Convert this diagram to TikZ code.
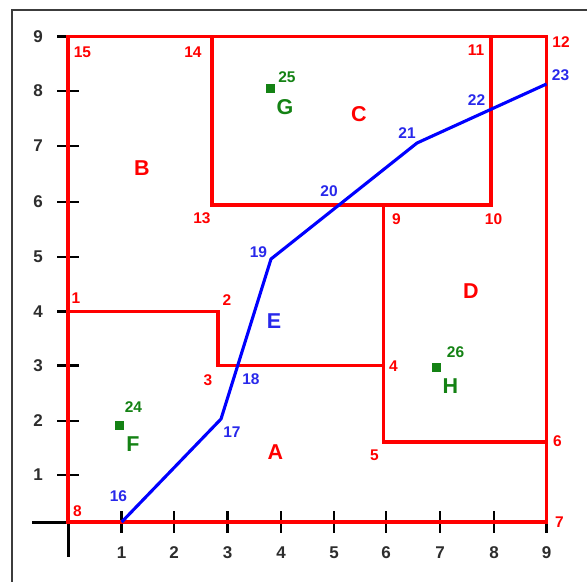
\documentclass[tikz,border=0pt]{standalone}
\usepackage{fontspec}
\setmainfont{Liberation Sans}
\definecolor{numblue}{RGB}{40,40,235}
\definecolor{numgreen}{RGB}{20,130,20}
\definecolor{tickgray}{RGB}{45,45,45}
\definecolor{framegray}{RGB}{60,60,60}
\begin{document}
\begin{tikzpicture}[x=1pt,y=-1pt,
 redl/.style={draw=red, line width=3.1pt, line join=miter},
 bluel/.style={draw=blue, line width=3.1pt, line join=round},
 num/.style={font=\fontsize{15.5}{15.5}\selectfont\bfseries, inner sep=0pt},
 rnum/.style={num, text=red},
 bnum/.style={num, text=numblue},
 gnum/.style={num, text=numgreen},
 big/.style={font=\fontsize{21.5}{21.5}\selectfont\bfseries, inner sep=0pt},
 axline/.style={draw=black, line width=3pt},
 axtick/.style={draw=black, line width=2.8pt},
 ticklab/.style={font=\fontsize{17}{17}\selectfont\bfseries, text=tickgray, inner sep=0pt},
 sq/.style={fill=numgreen, minimum size=9pt, inner sep=0pt, draw=none}
]
\useasboundingbox[fill=white] (0,0) rectangle (587,582);
% frame
\coordinate (fa) at (12,10); \coordinate (fb) at (587,10); \coordinate (fc) at (12,582);
\draw[framegray, line width=2.2pt] (fb) -- (fa) -- (fc);
% axes
\coordinate (ya) at (68,36.5); \coordinate (yb) at (68,557);
\coordinate (xa) at (32,522); \coordinate (xb) at (546,522);
\draw[axline] (ya) -- (yb);
\draw[axline] (xa) -- (xb);
\foreach \v/\py in {1/475,2/421,3/365.5,4/311.5,5/257,6/202,7/146,8/91,9/36.5}{
  \coordinate (yt\v a) at (57,\py); \coordinate (yt\v b) at (79,\py);
  \draw[axtick] (yt\v a) -- (yt\v b);
  \node[ticklab] (yl\v) at (38,\py) {\v};
}
\foreach \v/\px in {1/121.7,2/174,3/227.5,4/281,5/334,6/386,7/440,8/494,9/546.5}{
  \coordinate (xt\v a) at (\px,511); \coordinate (xt\v b) at (\px,533);
  \draw[axtick] (xt\v a) -- (xt\v b);
  \node[ticklab] (xl\v) at (\px,552.5) {\v};
}
% red region lines
\coordinate (o8) at (68,522); \coordinate (o7) at (546.5,522);
\coordinate (o12) at (546.5,36.5); \coordinate (o15) at (68,36.5);
\coordinate (c14) at (212,36.5); \coordinate (c13) at (212,205);
\coordinate (c10) at (491,205); \coordinate (c11) at (491,36.5);
\coordinate (p1) at (68,311.5); \coordinate (p2) at (218,311.5);
\coordinate (p3) at (218,365.5); \coordinate (p4) at (383.5,365.5);
\coordinate (p9) at (383.5,205); \coordinate (p5) at (383.5,442);
\coordinate (p6) at (546.5,442);
\draw[redl] (o8) -- (o7) -- (o12) -- (o15) -- cycle;
\draw[redl] (c14) -- (c13) -- (c10) -- (c11);
\draw[redl] (p1) -- (p2) -- (p3) -- (p4);
\draw[redl] (p9) -- (p5) -- (p6);
% blue path
\coordinate (b16) at (121.7,522); \coordinate (b17) at (221,419);
\coordinate (b19) at (271,259); \coordinate (b21) at (417,143);
\coordinate (b23) at (546.5,84);
\draw[bluel] (b16) -- (b17) -- (b19) -- (b21) -- (b23);
% red point labels
\node[rnum] (l1) at (76,298) {1};
\node[rnum] (l2) at (227,300) {2};
\node[rnum] (l3) at (208,380) {3};
\node[rnum] (l4) at (393.5,366.5) {4};
\node[rnum] (l5) at (374.5,455) {5};
\node[rnum] (l6) at (557.5,441.5) {6};
\node[rnum] (l7) at (559.5,522.5) {7};
\node[rnum] (l8) at (77.5,511) {8};
\node[rnum] (l9) at (396.5,219) {9};
\node[rnum] (l10) at (493.5,219.5) {10};
\node[rnum] (l11) at (476,50.5) {11};
\node[rnum] (l12) at (561,42) {12};
\node[rnum] (l13) at (202,218) {13};
\node[rnum] (l14) at (193,52) {14};
\node[rnum] (l15) at (82.5,52) {15};
% blue point labels
\node[bnum] (l16) at (118.5,496.5) {16};
\node[bnum] (l17) at (232,432.5) {17};
\node[bnum] (l18) at (251,379.5) {18};
\node[bnum] (l19) at (258.5,252) {19};
\node[bnum] (l20) at (329,191.5) {20};
\node[bnum] (l21) at (407,133) {21};
\node[bnum] (l22) at (476.5,100.5) {22};
\node[bnum] (l23) at (560.5,75.5) {23};
% region letters
\node[big, text=red] (rA) at (275.5,452) {A};
\node[big, text=red] (rB) at (142,168.5) {B};
\node[big, text=red] (rC) at (359,114.5) {C};
\node[big, text=red] (rD) at (471,291) {D};
\node[big, text=numblue] (rE) at (274,321) {E};
\node[big, text=numgreen] (rF) at (133,444.5) {F};
\node[big, text=numgreen] (rG) at (285,107.5) {G};
\node[big, text=numgreen] (rH) at (450.5,386) {H};
% green points
\node[sq] (sF) at (119,425) {};
\node[sq] (sG) at (270,88.5) {};
\node[sq] (sH) at (436.5,367) {};
\node[gnum] (l24) at (133.5,407) {24};
\node[gnum] (l25) at (287,77) {25};
\node[gnum] (l26) at (455.5,352) {26};
\end{tikzpicture}
\end{document}
